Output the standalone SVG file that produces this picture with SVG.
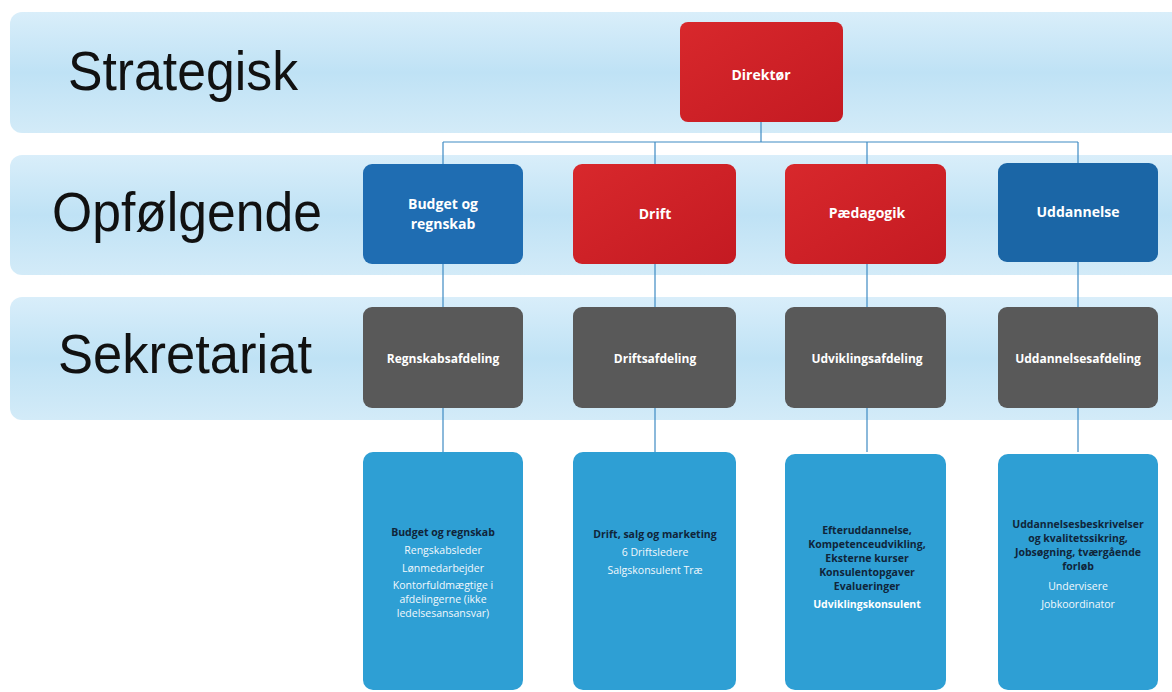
<svg xmlns="http://www.w3.org/2000/svg" width="1172" height="692" viewBox="0 0 1172 692">
<style>
.band{fill:url(#bandG)}
.lvl{font-family:"Liberation Sans",Arial,sans-serif;font-size:55px;fill:#111}
.red{fill:url(#redG)}
.blue{fill:#1f6db2}
.gray{fill:#595959}
.lb{fill:#2e9fd4}
.t{font-family:"Open Sans","Liberation Sans",sans-serif;font-weight:bold;fill:#fff;text-anchor:middle}
.m{font-size:14px}
.s{font-size:12px}
.x{font-family:"Open Sans","Liberation Sans",sans-serif;font-size:10.5px;text-anchor:middle}
.d{fill:#10253a;font-weight:bold}
.w{fill:#f2f8fc}
.wb{fill:#fff;font-weight:bold}
.c{stroke:#3f8bc4;stroke-width:1.2;fill:none}
</style>
<defs>
<linearGradient id="bandG" x1="0" y1="0" x2="0" y2="1">
<stop offset="0" stop-color="#d9eefa"/>
<stop offset="0.5" stop-color="#bfe2f5"/>
<stop offset="1" stop-color="#d3ebf8"/>
</linearGradient>
<linearGradient id="redG" x1="0" y1="0" x2="1" y2="1">
<stop offset="0" stop-color="#d8282c"/>
<stop offset="1" stop-color="#c41a22"/>
</linearGradient>
</defs>
<rect width="1172" height="692" fill="#fff"/>
<g id="bands">
<rect class="band" x="10" y="12" width="1180" height="121" rx="12"/>
<rect class="band" x="10" y="155" width="1180" height="120" rx="12"/>
<rect class="band" x="10" y="297" width="1180" height="123" rx="12"/>
<text class="lvl" x="68" y="90" textLength="230" lengthAdjust="spacingAndGlyphs">Strategisk</text>
<text class="lvl" x="52" y="231" textLength="270" lengthAdjust="spacingAndGlyphs">Opfølgende</text>
<text class="lvl" x="58" y="373" textLength="254" lengthAdjust="spacingAndGlyphs">Sekretariat</text>
</g>
<g id="connectors">
<path class="c" d="M761 122V142M443 142H1078M443 142V164M655 142V164M867 142V164M1078 142V163"/>
<path class="c" d="M443 264V307M655 264V307M867 264V307M1078 262V307"/>
<path class="c" d="M443 408V452M655 408V452M867 408V452M1078 408V452"/>
</g>
<g id="direktor"><rect class="red" x="680" y="22" width="163" height="100" rx="8"/><text class="t m" x="761" y="80">Direktør</text></g>
<g id="budget"><rect class="blue" x="363" y="164" width="160" height="100" rx="9"/><text class="t m" x="443" y="209">Budget og</text><text class="t m" x="443" y="229">regnskab</text></g>
<g id="drift"><rect class="red" x="573" y="164" width="163" height="100" rx="9"/><text class="t m" x="655" y="219">Drift</text></g>
<g id="paedagogik"><rect class="red" x="785" y="164" width="161" height="100" rx="9"/><text class="t m" x="867" y="218">Pædagogik</text></g>
<g id="uddannelse"><rect x="998" y="163" width="160" height="99" rx="9" fill="#1b66a6"/><text class="t m" x="1078" y="217">Uddannelse</text></g>
<g id="regnskabsafdeling"><rect class="gray" x="363" y="307" width="160" height="101" rx="9"/><text class="t s" x="443" y="363">Regnskabsafdeling</text></g>
<g id="driftsafdeling"><rect class="gray" x="573" y="307" width="163" height="101" rx="9"/><text class="t s" x="655" y="363">Driftsafdeling</text></g>
<g id="udviklingsafdeling"><rect class="gray" x="785" y="307" width="161" height="101" rx="9"/><text class="t s" x="867" y="363">Udviklingsafdeling</text></g>
<g id="uddannelsesafdeling"><rect class="gray" x="998" y="307" width="160" height="101" rx="9"/><text class="t s" x="1078" y="363">Uddannelsesafdeling</text></g>
<g id="box-budget"><rect class="lb" x="363" y="452" width="160" height="238" rx="10"/>
<text class="x d" x="443" y="536">Budget og regnskab</text>
<text class="x w" x="443" y="554">Rengskabsleder</text>
<text class="x w" x="443" y="572">Lønmedarbejder</text>
<text class="x w" x="443" y="589">Kontorfuldmægtige i</text>
<text class="x w" x="443" y="603">afdelingerne (ikke</text>
<text class="x w" x="443" y="617">ledelsesansansvar)</text></g>
<g id="box-drift"><rect class="lb" x="573" y="452" width="163" height="238" rx="10"/>
<text class="x d" x="655" y="538">Drift, salg og marketing</text>
<text class="x w" x="655" y="556">6 Driftsledere</text>
<text class="x w" x="655" y="574">Salgskonsulent Træ</text></g>
<g id="box-paedagogik"><rect class="lb" x="785" y="454" width="161" height="236" rx="10"/>
<text class="x d" x="867" y="534">Efteruddannelse,</text>
<text class="x d" x="867" y="548">Kompetenceudvikling,</text>
<text class="x d" x="867" y="562">Eksterne kurser</text>
<text class="x d" x="867" y="576">Konsulentopgaver</text>
<text class="x d" x="867" y="590">Evalueringer</text>
<text class="x wb" x="867" y="608">Udviklingskonsulent</text></g>
<g id="box-uddannelse"><rect class="lb" x="998" y="454" width="160" height="236" rx="10"/>
<text class="x d" x="1078" y="528">Uddannelsesbeskrivelser</text>
<text class="x d" x="1078" y="542">og kvalitetssikring,</text>
<text class="x d" x="1078" y="556">Jobsøgning, tværgående</text>
<text class="x d" x="1078" y="570">forløb</text>
<text class="x w" x="1078" y="590">Undervisere</text>
<text class="x w" x="1078" y="608">Jobkoordinator</text></g>
</svg>
